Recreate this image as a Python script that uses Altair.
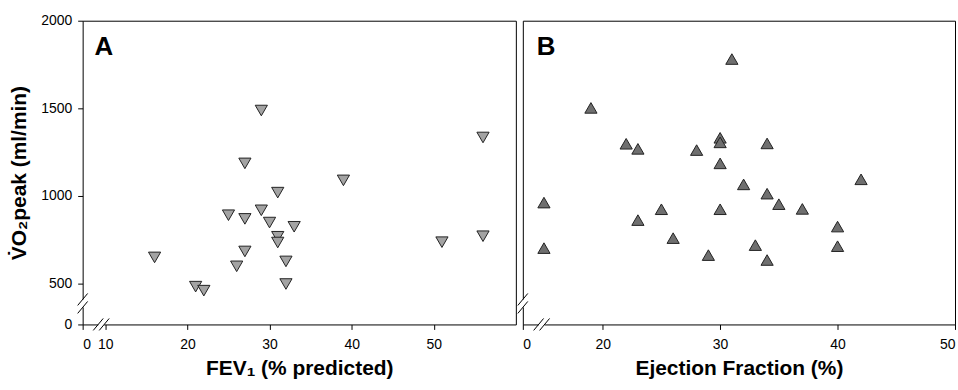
import altair as alt
import pandas as pd

# Panel A: FEV1 (% predicted) vs VO2peak (ml/min)
fev1 = [16, 21, 22, 25, 26, 27, 27, 27, 29, 29, 30, 31, 31, 31, 32, 32, 33, 39, 51, 56, 56]
vo2_a = [648, 481, 458, 889, 597, 1185, 868, 682, 1487, 917, 847, 1018, 766, 733, 625, 496, 823, 1088, 735, 1333, 769]

# Panel B: Ejection fraction (%) vs VO2peak (ml/min)
ef = [15, 15, 19, 22, 23, 23, 25, 26, 28, 29, 30, 30, 30, 30, 31, 32, 33, 34, 34, 34, 35, 37, 40, 40, 42]
vo2_b = [961, 701, 1502, 1297, 1268, 861, 923, 758, 1261, 661, 1331, 1305, 1185, 923, 1781, 1065, 718, 1299, 1012,
         633, 952, 925, 824, 712, 1094]

# Broken axes: the lowest tick is drawn as "0"
y_domain = [265, 2000]
y_ticks = [265, 500, 1000, 1500, 2000]
xa_domain = [7.24, 60]
xa_ticks = [7.24, 10, 20, 30, 40, 50]
xb_domain = [13.2, 50]
xb_ticks = [13.2, 20, 30, 40, 50]
y_break = 385
xa_break = 9.5
xb_break = 14.8

FONT = "Liberation Sans"


def xenc(field, domain, ticks, title, low):
    return alt.X(field, type="quantitative",
                 scale=alt.Scale(domain=domain, nice=False, zero=False),
                 axis=alt.Axis(values=ticks, title=title,
                               labelExpr=f"datum.value < {low} ? '0' : format(datum.value, 'd')"))


def yenc(field, show):
    if show:
        ax = alt.Axis(values=y_ticks, title="V̇O₂peak (ml/min)",
                      labelExpr="datum.value < 400 ? '0' : format(datum.value, 'd')")
    else:
        ax = None
    return alt.Y(field, type="quantitative",
                 scale=alt.Scale(domain=y_domain, nice=False, zero=False), axis=ax)


def x2enc(field):
    return alt.X2(field)


def y2enc(field):
    return alt.Y2(field)


def panel(xs, ys, shape, fill, domain, ticks, title, low, xbreak, letter, letter_x, show_y, width):
    df = pd.DataFrame({"x": xs, "y": ys})
    X = lambda: xenc("x", domain, ticks, title, low)
    Y = lambda: yenc("y", show_y)
    pts = alt.Chart(df).mark_point(shape=shape, filled=True, fill=fill, stroke="#222222",
                                   strokeWidth=1, size=150, opacity=1).encode(x=X(), y=Y())
    vdf = pd.DataFrame({"x": [domain[0]], "y": [y_break]})
    hdf = pd.DataFrame({"x": [xbreak], "y": [y_domain[0]]})
    layers = [pts]
    # y-axis break
    layers.append(alt.Chart(vdf).mark_rule(color="white", strokeWidth=5, yOffset=-4, y2Offset=4)
                  .encode(x=X(), y=Y(), y2=y2enc("y")))
    for off in (-4, 4):
        layers.append(alt.Chart(vdf).mark_rule(color="black", strokeWidth=1,
                                               xOffset=-5, x2Offset=5, yOffset=off + 6, y2Offset=off - 6)
                      .encode(x=X(), x2=x2enc("x"), y=Y(), y2=y2enc("y")))
    # x-axis break
    layers.append(alt.Chart(hdf).mark_rule(color="white", strokeWidth=5, xOffset=-3, x2Offset=3)
                  .encode(x=X(), x2=x2enc("x"), y=Y()))
    for off in (-3, 3):
        layers.append(alt.Chart(hdf).mark_rule(color="black", strokeWidth=1,
                                               xOffset=off - 5, x2Offset=off + 5, yOffset=6, y2Offset=-6)
                      .encode(x=X(), x2=x2enc("x"), y=Y(), y2=y2enc("y")))
    ldf = pd.DataFrame({"t": [letter]})
    layers.append(alt.Chart(ldf).mark_text(font=FONT, fontSize=26, fontWeight="bold", align="left",
                                           baseline="alphabetic", color="black")
                  .encode(text="t:N", x=alt.value(letter_x), y=alt.value(34)))
    return alt.layer(*layers).properties(width=width, height=305)


pa = panel(fev1, vo2_a, "triangle-down", "#a3a3a3", xa_domain, xa_ticks, "FEV₁ (% predicted)", 9,
           xa_break, "A", 12, True, 435)
pb = panel(ef, vo2_b, "triangle-up", "#6f6f6f", xb_domain, xb_ticks, "Ejection Fraction (%)", 15,
           xb_break, "B", 14, False, 434)

chart = (alt.hconcat(pa, pb, spacing=0)
         .properties(padding={"left": 8, "top": 12, "right": 2, "bottom": 2}, background="white")
         .configure_view(stroke="black", strokeWidth=1)
         .configure_axis(grid=False, domain=False, ticks=True, tickColor="black", tickSize=5,
                         labelFont=FONT, labelFontSize=14, labelColor="black",
                         titleFont=FONT, titleFontSize=21, titleFontWeight="bold", titleColor="black")
         .configure_axisY(labelPadding=6, titlePadding=11)
         .configure_axisX(labelPadding=8, titlePadding=6)
         )

chart.save("out.html", embed_options={"renderer": "svg", "actions": False})
